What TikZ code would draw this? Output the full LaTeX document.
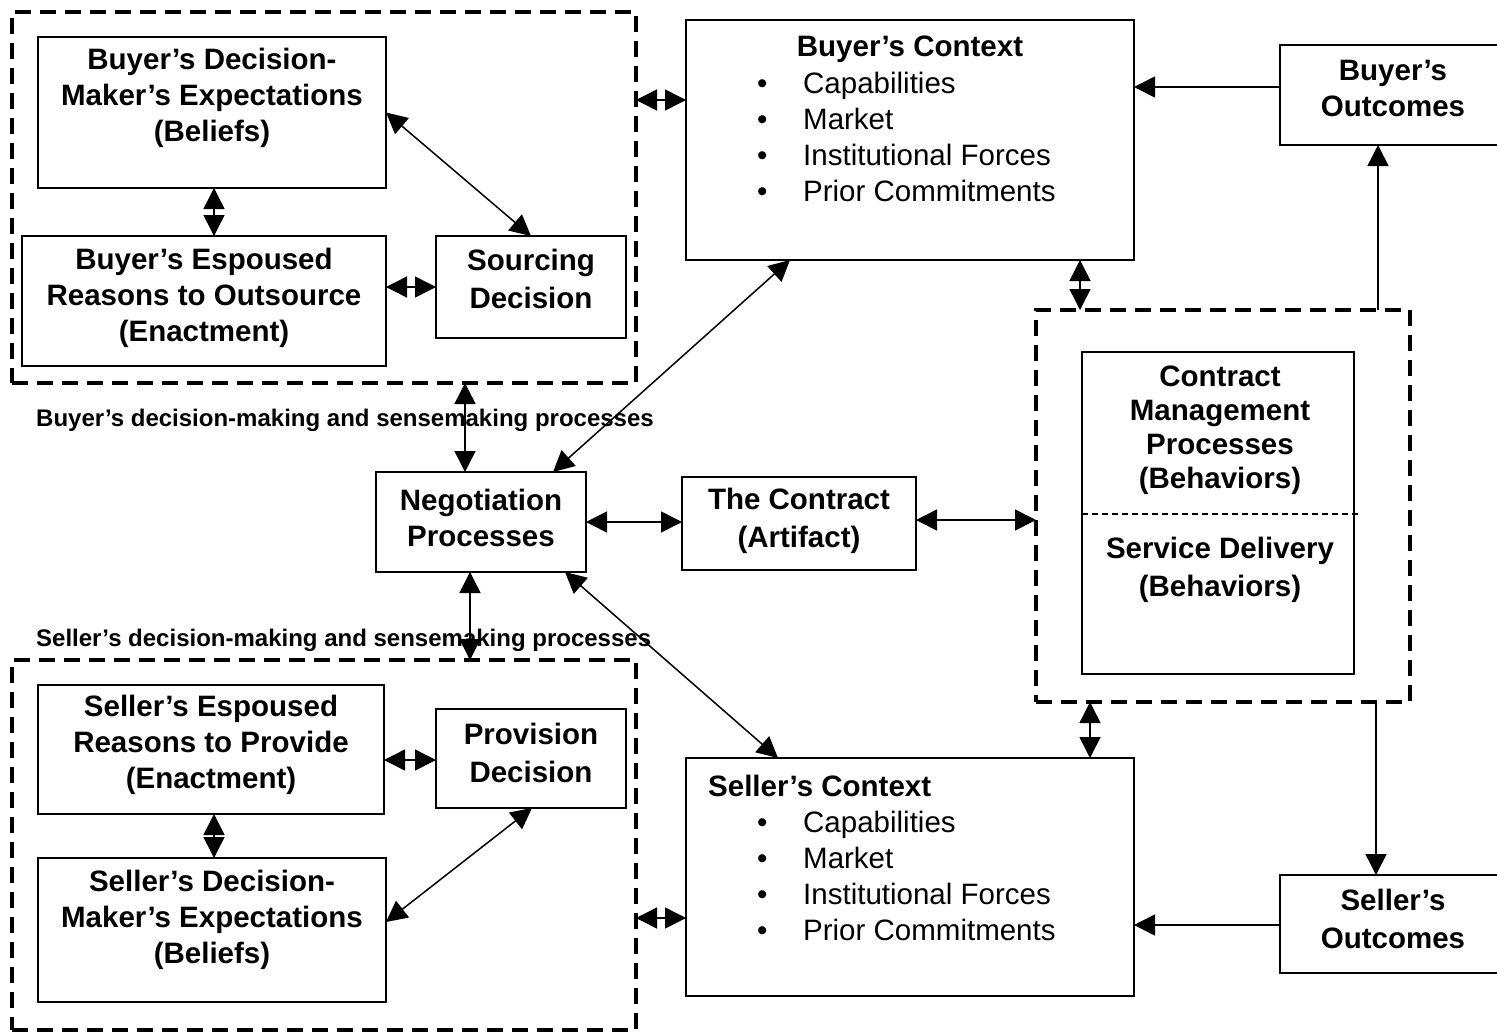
\documentclass[tikz,border=0pt]{standalone}
\usepackage{fontspec}
\setmainfont{Liberation Sans}
\usetikzlibrary{arrows.meta}
\newcommand\bxfont{\fontsize{29.5}{36}\selectfont\bfseries}
\newcommand\bxwfont{\fontsize{29.5}{38}\selectfont\bfseries}
\newcommand\rgfont{\fontsize{29.5}{36}\selectfont}
\newcommand\lbfont{\fontsize{24}{28}\selectfont\bfseries}
\begin{document}
\begin{tikzpicture}[x=1pt,y=-1pt,
  box/.style={draw, line width=1.8pt, inner sep=0pt, outer sep=0pt},
  dbox/.style={draw, line width=3.8pt, dash pattern=on 16pt off 9pt, inner sep=0pt, outer sep=0pt},
  txt/.style={align=center, font=\bxfont, inner sep=0pt},
  lbl/.style={anchor=west, font=\lbfont, inner sep=0pt},
  arr/.style={line width=1.5pt, -{Triangle[length=21pt,width=21pt]}},
  dbl/.style={line width=1.5pt, {Triangle[length=21pt,width=21pt]}-{Triangle[length=21pt,width=21pt]}}
]
\useasboundingbox (0,0) rectangle (1497,1034);

% Buyer side
\node[dbox, minimum width=624pt, minimum height=371pt] (bdash) at (324,197.5) {};
\node[box, minimum width=348pt, minimum height=151pt] (bdm) at (212,112.5) {};
\node[box, minimum width=364pt, minimum height=130pt] (besp) at (204,301) {};
\node[box, minimum width=190pt, minimum height=102pt] (src) at (531,287) {};
\node[txt] (tbdm) at (212,98) {Buyer’s Decision-\\Maker’s Expectations\\(Beliefs)};
\node[txt] (tbesp) at (204,298) {Buyer’s Espoused\\Reasons to Outsource\\(Enactment)};
\node[txt, font=\bxwfont] (tsrc) at (531,279) {Sourcing\\Decision};

% Buyer context
\node[box, minimum width=448pt, minimum height=240pt] (bctx) at (910,140) {};
\node[txt] (tbctx) at (910,49) {Buyer’s Context};
\node[anchor=west, inner sep=0pt, font=\rgfont] (lbctx) at (757,140)
  {\begin{tabular}{@{}p{46pt}@{}l@{}}•&Capabilities\\•&Market\\•&Institutional Forces\\•&Prior Commitments\end{tabular}};

% Buyer outcomes
\node[box, minimum width=224pt, minimum height=100pt] (bout) at (1392,95) {};
\node[txt] (tbout) at (1393,88) {Buyer’s\\Outcomes};

% Negotiation and contract
\node[box, minimum width=210pt, minimum height=100pt] (nego) at (481,522) {};
\node[txt] (tnego) at (481,518) {Negotiation\\Processes};
\node[box, minimum width=234pt, minimum height=93pt] (contr) at (799,523.5) {};
\node[txt, font=\bxwfont] (tcontr) at (799,521) {The Contract\\(Artifact)};

% Contract management
\node[dbox, minimum width=374pt, minimum height=392pt] (cmdash) at (1223,506) {};
\node[box, minimum width=272pt, minimum height=322pt] (cm) at (1218,513) {};
\coordinate (cmL) at (1082,514);
\coordinate (cmR) at (1358,514);
\draw[line width=1.3pt, dash pattern=on 6pt off 4pt] (cmL) -- (cmR);
\node[txt, font=\fontsize{29.5}{34}\selectfont\bfseries] (tcm) at (1220,430) {Contract\\Management\\Processes\\(Behaviors)};
\node[txt, font=\bxwfont] (tsd) at (1220,570) {Service Delivery\\(Behaviors)};

% Seller context
\node[box, minimum width=448pt, minimum height=238pt] (sctx) at (910,877) {};
\node[txt, anchor=west] (tsctx) at (708,786) {Seller’s Context};
\node[anchor=west, inner sep=0pt, font=\rgfont] (lsctx) at (757,879)
  {\begin{tabular}{@{}p{46pt}@{}l@{}}•&Capabilities\\•&Market\\•&Institutional Forces\\•&Prior Commitments\end{tabular}};

% Seller outcomes
\node[box, minimum width=224pt, minimum height=98pt] (sout) at (1392,924) {};
\node[txt, font=\bxwfont] (tsout) at (1393,919) {Seller’s\\Outcomes};

% Seller side
\node[dbox, minimum width=624pt, minimum height=370pt] (sdash) at (324,845) {};
\node[box, minimum width=346pt, minimum height=129pt] (sesp) at (211,749.5) {};
\node[box, minimum width=190pt, minimum height=99pt] (prov) at (531,758.5) {};
\node[box, minimum width=348pt, minimum height=144pt] (sdm) at (212,930) {};
\node[txt] (tsesp) at (211,745) {Seller’s Espoused\\Reasons to Provide\\(Enactment)};
\node[txt, font=\bxwfont] (tprov) at (531,753) {Provision\\Decision};
\node[txt] (tsdm) at (212,920) {Seller’s Decision-\\Maker’s Expectations\\(Beliefs)};

% Labels
\node[lbl] (lbuy) at (36,420) {Buyer’s decision-making and sensemaking processes};
\node[lbl] (lsel) at (36,640) {Seller’s decision-making and sensemaking processes};

% Connectors - buyer
\draw[dbl] (bdm.south -| 214,0) -- (besp.north -| 214,0);
\draw[dbl] (besp.east |- 0,287) -- (src.west |- 0,287);
\draw[dbl] (bdm.east) -- (src.north);
\draw[dbl] (bdash.east |- 0,100) -- (bctx.west |- 0,100);
\draw[arr] (bout.west |- 0,87) -- (bctx.east |- 0,87);
\draw[arr] (cmdash.north -| 1378,0) -- (bout.south -| 1378,0);
\draw[dbl] (bctx.south -| 1080,0) -- (cmdash.north -| 1080,0);
\draw[dbl] (bctx.south -| 790,0) -- (nego.north -| 553,0);
\draw[dbl] (bdash.south -| 465,0) -- (nego.north -| 465,0);

% Connectors - middle
\draw[dbl] (nego.east |- 0,522) -- (contr.west |- 0,522);
\draw[dbl] (contr.east |- 0,520) -- (cmdash.west |- 0,520);

% Connectors - seller
\draw[dbl] (cmdash.south -| 1090,0) -- (sctx.north -| 1090,0);
\draw[arr] (cmdash.south -| 1376,0) -- (sout.north -| 1376,0);
\draw[arr] (sout.west |- 0,925) -- (sctx.east |- 0,925);
\draw[dbl] (nego.south -| 565,0) -- (sctx.north -| 778,0);
\draw[dbl] (nego.south -| 470,0) -- (sdash.north -| 470,0);
\draw[dbl] (sesp.south -| 214,0) -- (sdm.north -| 214,0);
\draw[dbl] (sesp.east |- 0,760) -- (prov.west |- 0,760);
\draw[dbl] (sdm.east |- 0,922) -- (prov.south -| 532,0);
\draw[dbl] (sdash.east |- 0,918) -- (sctx.west |- 0,918);
\end{tikzpicture}
\end{document}
